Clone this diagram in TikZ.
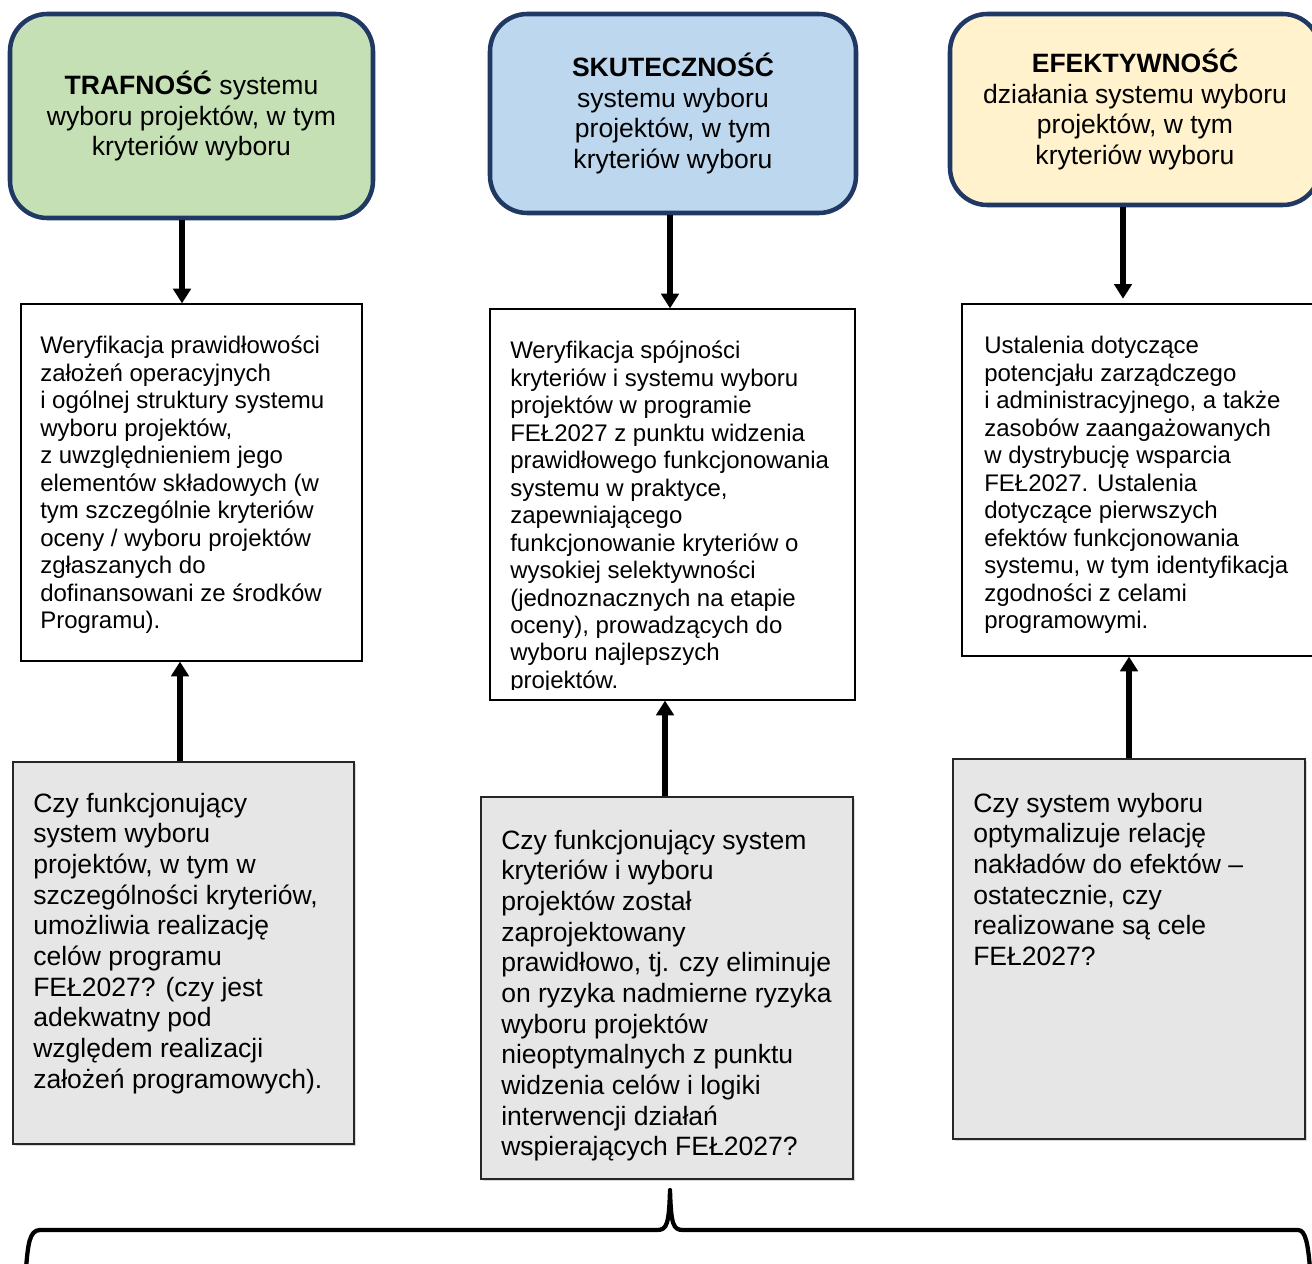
\documentclass[tikz,border=0pt]{standalone}
\usepackage{fontspec}
\setmainfont{Liberation Sans}
\usetikzlibrary{arrows.meta,fit,shadows}
\definecolor{navy}{HTML}{1F3864}
\definecolor{tgreen}{HTML}{C5E0B4}
\definecolor{tblue}{HTML}{BDD7EE}
\definecolor{tyellow}{HTML}{FFF2CC}
\definecolor{qgrey}{HTML}{E6E6E6}
\begin{document}
\begin{tikzpicture}[x=0.75pt,y=-0.75pt,
 topbox/.style={draw=navy, line width=3.4pt, rounded corners=28pt, inner sep=0pt},
 whitebox/.style={draw=black, line width=0.9pt, fill=white, inner sep=0pt},
 greybox/.style={draw=black!85, line width=0.9pt, fill=qgrey, inner sep=0pt,
   drop shadow={shadow xshift=1.2pt, shadow yshift=-1.2pt, opacity=0.3}},
 toptext/.style={align=center, font=\fontsize{19.9}{22.8}\selectfont, inner sep=0pt},
 wtext/.style={align=left, anchor=north west, font=\fontsize{18}{20.6}\selectfont, inner sep=0pt},
 gtext/.style={align=left, anchor=north west, font=\fontsize{19.9}{23}\selectfont, inner sep=0pt},
 arr/.style={line width=4pt, -{Triangle[width=13pt,length=11pt]}},
 brace/.style={line width=3.2pt, line cap=round, line join=round}
]
\useasboundingbox (0,0) rectangle (1312,1263);
\clip (0,0) rectangle (1312,1263);

% top boxes
\node[topbox, fill=tgreen, fit={(10,14) (373,218)}] (t1) {};
\node[topbox, fill=tblue, fit={(490,14) (856,213)}] (t2) {};
\node[topbox, fill=tyellow, fit={(950,14) (1320,205)}] (t3) {};
\node[toptext] (t1t) at (t1.center) {\textbf{TRAFNOŚĆ} systemu\\ wyboru projektów, w tym\\ kryteriów wyboru};
\node[toptext] (t2t) at (t2.center) {\textbf{SKUTECZNOŚĆ}\\ systemu wyboru\\ projektów, w tym\\ kryteriów wyboru};
\node[toptext] (t3t) at (t3.center) {\textbf{EFEKTYWNOŚĆ}\\ działania systemu wyboru\\ projektów, w tym\\ kryteriów wyboru};

% white boxes
\node[whitebox, fit={(21,304) (362,661)}] (w1) {};
\node[whitebox, fit={(490,309) (855,700)}] (w2) {};
\node[whitebox, fit={(962,304) (1330,656)}] (w3) {};

\node[wtext] (w1t) at (40,353.5-19.2) {\strut Weryfikacja prawidłowości\\ założeń operacyjnych\\ i ogólnej struktury systemu\\ wyboru projektów,\\ z uwzględnieniem jego\\ elementów składowych (w\\ tym szczególnie kryteriów\\ oceny / wyboru projektów\\ zgłaszanych do\\ dofinansowani ze środków\\ Programu).};
\begin{scope}
\clip (491,310) rectangle (854,689);
\node[wtext] (w2t) at (510,358.5-19.2) {\strut Weryfikacja spójności\\ kryteriów i systemu wyboru\\ projektów w programie\\ FEŁ2027 z punktu widzenia\\ prawidłowego funkcjonowania\\ systemu w praktyce,\\ zapewniającego\\ funkcjonowanie kryteriów o\\ wysokiej selektywności\\ (jednoznacznych na etapie\\ oceny), prowadzących do\\ wyboru najlepszych\\ projektów.};
\end{scope}
\node[wtext] (w3t) at (984,353.5-19.2) {\strut Ustalenia dotyczące\\ potencjału zarządczego\\ i administracyjnego, a także\\ zasobów zaangażowanych\\ w dystrybucję wsparcia\\ FEŁ2027. Ustalenia\\ dotyczące pierwszych\\ efektów funkcjonowania\\ systemu, w tym identyfikacja\\ zgodności z celami\\ programowymi.};

% grey boxes
\node[greybox, fit={(13,762) (354,1144)}] (g1) {};
\node[greybox, fit={(481,797) (853,1179)}] (g2) {};
\node[greybox, fit={(953,759) (1305,1139)}] (g3) {};

\node[gtext] (g1t) at (33,812-21.5) {\strut Czy funkcjonujący\\ system wyboru\\ projektów, w tym w\\ szczególności kryteriów,\\ umożliwia realizację\\ celów programu\\ FEŁ2027? (czy jest\\ adekwatny pod\\ względem realizacji\\ założeń programowych).};
\node[gtext] (g2t) at (501,849-21.5) {\strut Czy funkcjonujący system\\ kryteriów i wyboru\\ projektów został\\ zaprojektowany\\ prawidłowo, tj. czy eliminuje\\ on ryzyka nadmierne ryzyka\\ wyboru projektów\\ nieoptymalnych z punktu\\ widzenia celów i logiki\\ interwencji działań\\ wspierających FEŁ2027?};
\node[gtext] (g3t) at (973,812-21.5) {\strut Czy system wyboru\\ optymalizuje relację\\ nakładów do efektów –\\ ostatecznie, czy\\ realizowane są cele\\ FEŁ2027?};

% arrows down
\draw[arr] (t1.south -| 182,0) -- (w1.north -| 182,0);
\draw[arr] (t2.south -| 670,0) -- (w2.north -| 670,0);
\draw[arr, shorten >=3.5pt] (t3.south -| 1123,0) -- (w3.north -| 1123,0);
% arrows up
\draw[arr] (g1.north -| 180,0) -- (w1.south -| 180,0);
\draw[arr] (g2.north -| 665,0) -- (w2.south -| 665,0);
\draw[arr] (g3.north -| 1129,0) -- (w3.south -| 1129,0);

% brace
\draw[brace] (26,1268) .. controls (28,1246) and (29,1230) .. (40,1230)
  -- (657,1230) .. controls (667,1230) and (669,1224) .. (670,1190)
  .. controls (671,1224) and (673,1230) .. (683,1230)
  -- (1298,1230) .. controls (1306,1230) and (1308,1246) .. (1310,1268);
\end{tikzpicture}
\end{document}
